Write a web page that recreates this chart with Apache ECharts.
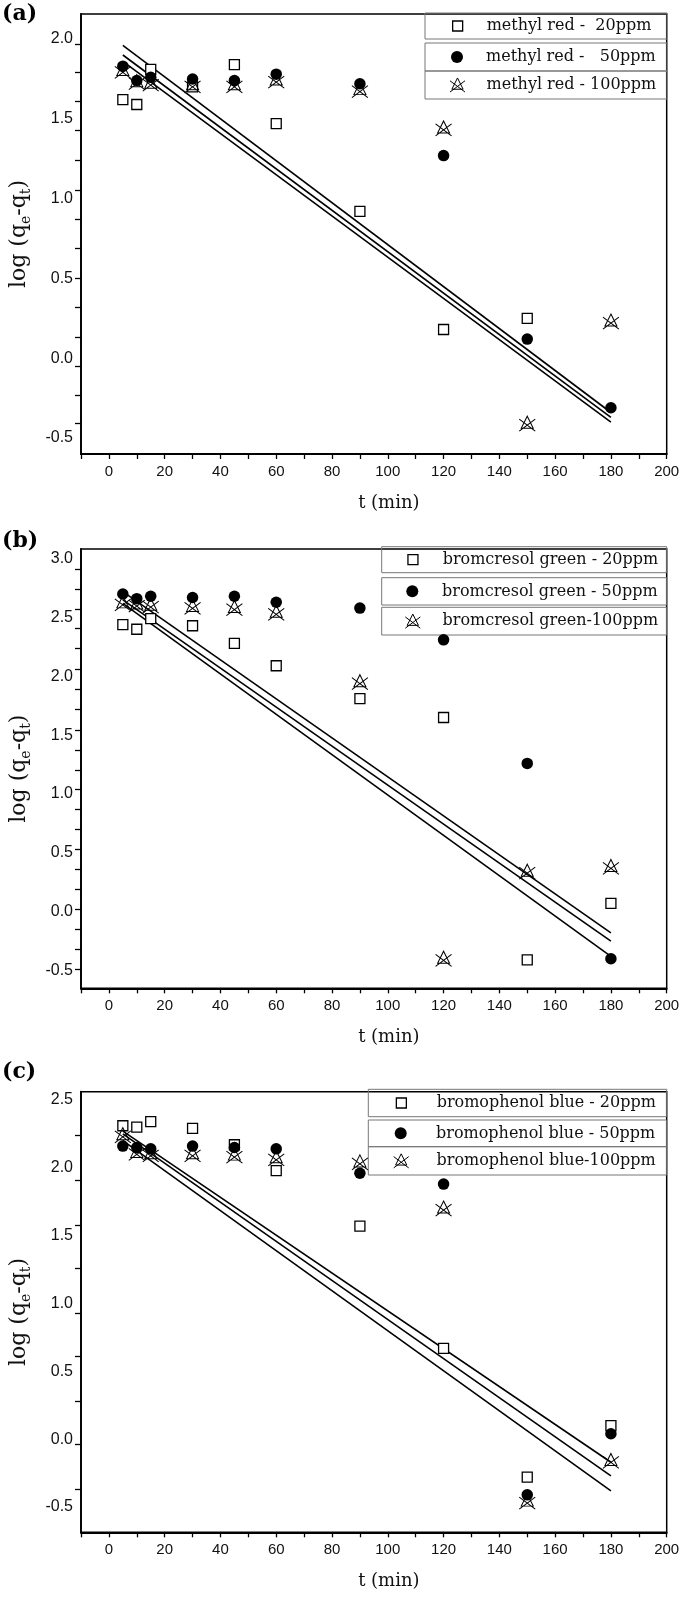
<!DOCTYPE html>
<html><head><meta charset="utf-8">
<script src="https://cdn.jsdelivr.net/npm/echarts@6/dist/echarts.min.js"></script>
<style>html,body{margin:0;padding:0;background:#fff}#c{width:685px;height:1600px}</style>
</head><body><div id="c"></div>
<script>
// ---------- data ----------
const tMin = [5, 10, 15, 30, 45, 60, 90, 120, 150, 180];
const xLabelValues = [0, 20, 40, 60, 80, 100, 120, 140, 160, 180, 200];
const xTickValues = [-10, 0, 10, 20, 30, 40, 50, 60, 70, 80, 90, 100, 110, 120, 130, 140, 150, 160, 170, 180, 190, 200];

// (a) methyl red
const aNames = ['methyl red -  20ppm', 'methyl red -   50ppm', 'methyl red - 100ppm'];
const a20 = [1.62, 1.59, 1.81, 1.70, 1.84, 1.47, 0.92, 0.18, 0.25, null];
const a50 = [1.83, 1.74, 1.76, 1.75, 1.74, 1.78, 1.72, 1.27, 0.12, -0.31];
const a100 = [1.80, 1.73, 1.72, 1.71, 1.71, 1.74, 1.68, 1.44, -0.41, 0.23];
const aFit1 = [[5, 1.96], [180, -0.34]];
const aFit2 = [[5, 1.90], [180, -0.37]];
const aFit3 = [[5, 1.86], [180, -0.40]];
const aYLabels = [-0.5, 0, 0.5, 1.0, 1.5, 2.0];
const aYTicks = [1.97, 1.79, 1.61, 1.43, 1.24, 1.05, 0.87, 0.69, 0.50, 0.32, 0.13, -0.05, -0.23, -0.41];
const aYRange = [-0.60, 2.157];

// (b) bromcresol green
const bNames = ['bromcresol green - 20ppm', 'bromcresol green - 50ppm', 'bromcresol green-100ppm'];
const b20 = [2.44, 2.40, 2.49, 2.43, 2.28, 2.09, 1.81, 1.65, -0.41, 0.07];
const b50 = [2.70, 2.66, 2.68, 2.67, 2.68, 2.63, 2.58, 2.31, 1.26, -0.40];
const b100 = [2.62, 2.61, 2.60, 2.59, 2.58, 2.54, 1.95, -0.40, 0.34, 0.38];
const bFit1 = [[5, 2.72], [180, -0.18]];
const bFit2 = [[5, 2.65], [180, -0.25]];
const bFit3 = [[5, 2.62], [180, -0.38]];
const bYLabels = [-0.5, 0, 0.5, 1.0, 1.5, 2.0, 2.5, 3.0];
const bYTicks = [2.91, 2.74, 2.57, 2.41, 2.24, 2.06, 1.89, 1.72, 1.54, 1.37, 1.20, 1.04, 0.87, 0.70, 0.53, 0.36, 0.19, 0.02, -0.15, -0.32, -0.49];
const bYRange = [-0.651, 3.082];

// (c) bromophenol blue
const cNames = ['bromophenol blue - 20ppm', 'bromophenol blue - 50ppm', 'bromophenol blue-100ppm'];
const c20 = [2.31, 2.30, 2.34, 2.29, 2.17, 1.98, 1.57, 0.67, -0.28, 0.10];
const c50 = [2.16, 2.15, 2.14, 2.16, 2.15, 2.14, 1.96, 1.88, -0.41, 0.04];
const c100 = [2.24, 2.11, 2.10, 2.10, 2.09, 2.07, 2.04, 1.70, -0.46, -0.16];
const cFit1 = [[5, 2.27], [180, -0.17]];
const cFit2 = [[5, 2.25], [180, -0.27]];
const cFit3 = [[5, 2.20], [180, -0.38]];
const cYLabels = [-0.5, 0, 0.5, 1.0, 1.5, 2.0, 2.5];
const cYTicks = [2.24, 1.91, 1.58, 1.26, 0.93, 0.61, 0.28, -0.04, -0.37];
const cYRange = [-0.686, 2.561];

const panelTags = ['(a)', '(b)', '(c)'];

// ---------- layout ----------
const panels = [
  {names: aNames, s: [a20, a50, a100], fits: [aFit1, aFit2, aFit3], yl: aYLabels, yt: aYTicks, yr: aYRange},
  {names: bNames, s: [b20, b50, b100], fits: [bFit1, bFit2, bFit3], yl: bYLabels, yt: bYTicks, yr: bYRange},
  {names: cNames, s: [c20, c50, c100], fits: [cFit1, cFit2, cFit3], yl: cYLabels, yt: cYTicks, yr: cYRange}
];
const gridTop = [14, 549, 1091.7];
const gridH = [440, 439.3, 440.6];
const tagTop = [3, 530, 1061];
const legendBox = [
  {left: 425, width: 242, rows: [[13, 39], [43, 71], [71, 99]], cx: 457, tx: 486},
  {left: 381.7, width: 285, rows: [[546.7, 572.7], [577.7, 605], [607.3, 635]], cx: 412.3, tx: 442},
  {left: 368.3, width: 298.4, rows: [[1089.3, 1116.7], [1120, 1146.7], [1146.7, 1175]], cx: 400.7, tx: 436}
];

const xPath = 'path://M8 0 L14 12 L2 12 Z M0 3 L16 15 M16 3 L0 15';
const sqPath = 'path://M0 0 L10 0 L10 10 L0 10 Z';
const symStyles = [
  {symbol: sqPath, size: 10, icon: 10, item: {color: '#ffffff', borderColor: '#000', borderWidth: 1.3, opacity: 1}},
  {symbol: 'circle', size: 11.5, icon: 12, item: {color: '#000', borderColor: '#000', borderWidth: 0, opacity: 1}},
  {symbol: xPath, size: [16, 15], icon: 15, item: {color: 'rgba(0,0,0,0)', borderColor: '#000', borderWidth: 1, opacity: 1}}
];

const grids = [], xAxes = [], yAxes = [], series = [], legends = [], graphics = [];
const serifFont = '"DejaVu Serif", serif';
const sansFont = '"Liberation Sans", Arial, sans-serif';

panels.forEach((p, i) => {
  grids.push({left: 77.7, top: gridTop[i], width: 589, height: gridH[i], show: true,
    borderColor: '#000', borderWidth: 1.5, backgroundColor: 'transparent'});
  xAxes.push({
    type: 'value', gridIndex: i, min: -10, max: 200,
    name: 't (min)', nameLocation: 'middle', nameGap: 40,
    nameTextStyle: {fontFamily: serifFont, fontSize: 18, color: '#111', padding: [0, 0, 0, 30]},
    axisLine: {show: true, onZero: false, lineStyle: {color: '#000', width: 1.8}},
    axisTick: {show: true, inside: false, length: 5, customValues: xTickValues, lineStyle: {color: '#000', width: 1.3}},
    axisLabel: {customValues: xLabelValues, margin: 10, fontFamily: sansFont, fontSize: 15, color: '#111'},
    splitLine: {show: false}
  });
  yAxes.push({
    type: 'value', gridIndex: i, min: p.yr[0], max: p.yr[1],
    name: '{m|log (q}{s|e}{m|-q}{s|t}{m|)}', nameLocation: 'middle', nameRotate: 90, nameGap: 48,
    nameTextStyle: {
      rich: {
        m: {fontFamily: serifFont, fontSize: 22, color: '#111', lineHeight: 28, verticalAlign: 'middle'},
        s: {fontFamily: serifFont, fontSize: 14, color: '#111', lineHeight: 14, verticalAlign: 'bottom'}
      }
    },
    axisLine: {show: true, onZero: false, lineStyle: {color: '#000', width: 1.8}},
    axisTick: {show: true, inside: false, length: 6, customValues: p.yt, lineStyle: {color: '#000', width: 1.3}},
    axisLabel: {customValues: p.yl, margin: 8, fontFamily: sansFont, fontSize: 16, color: '#111',
      formatter: v => v.toFixed(1)},
    splitLine: {show: false}
  });
  p.fits.forEach(f => {
    series.push({type: 'line', xAxisIndex: i, yAxisIndex: i, data: f, showSymbol: false, symbol: 'none',
      silent: true, z: 1, lineStyle: {color: '#000', width: 1.6}});
  });
  const lb = legendBox[i];
  p.s.forEach((vals, k) => {
    const st = symStyles[k];
    series.push({type: 'scatter', name: p.names[k], xAxisIndex: i, yAxisIndex: i, z: 3 + k,
      data: tMin.map((t, j) => vals[j] === null ? null : [t, vals[j]]).filter(d => d),
      symbol: st.symbol, symbolSize: st.size, itemStyle: st.item});
    const row = lb.rows[k];
    const iw = st.icon;
    const contentH = 18;
    legends.push({
      data: [{name: p.names[k], icon: st.symbol}], left: lb.cx - iw / 2, top: (row[0] + row[1]) / 2 - contentH / 2,
      orient: 'vertical', selectedMode: false, padding: 0,
      itemWidth: iw, itemHeight: iw, itemGap: 0, symbolKeepAspect: true,
      itemStyle: st.item,
      textStyle: {fontFamily: serifFont, fontSize: 16, color: '#111', lineHeight: contentH,
        padding: [0, 0, 0, lb.tx - (lb.cx + iw / 2 + 5)]}
    });
    graphics.push({type: 'rect', silent: true, z: 0,
      shape: {x: lb.left, y: row[0], width: lb.width, height: row[1] - row[0]},
      style: {fill: 'rgba(0,0,0,0)', stroke: '#777', lineWidth: 1}});
  });
  graphics.push({type: 'text', left: 2, top: tagTop[i],
    style: {text: panelTags[i], font: 'bold 22px ' + serifFont, fill: '#000'}});
});

const chart = echarts.init(document.getElementById('c'), null, {renderer: 'canvas'});
chart.setOption({
  animation: false, backgroundColor: '#fff',
  grid: grids, xAxis: xAxes, yAxis: yAxes, series: series, legend: legends, graphic: graphics
});
</script></body></html>
